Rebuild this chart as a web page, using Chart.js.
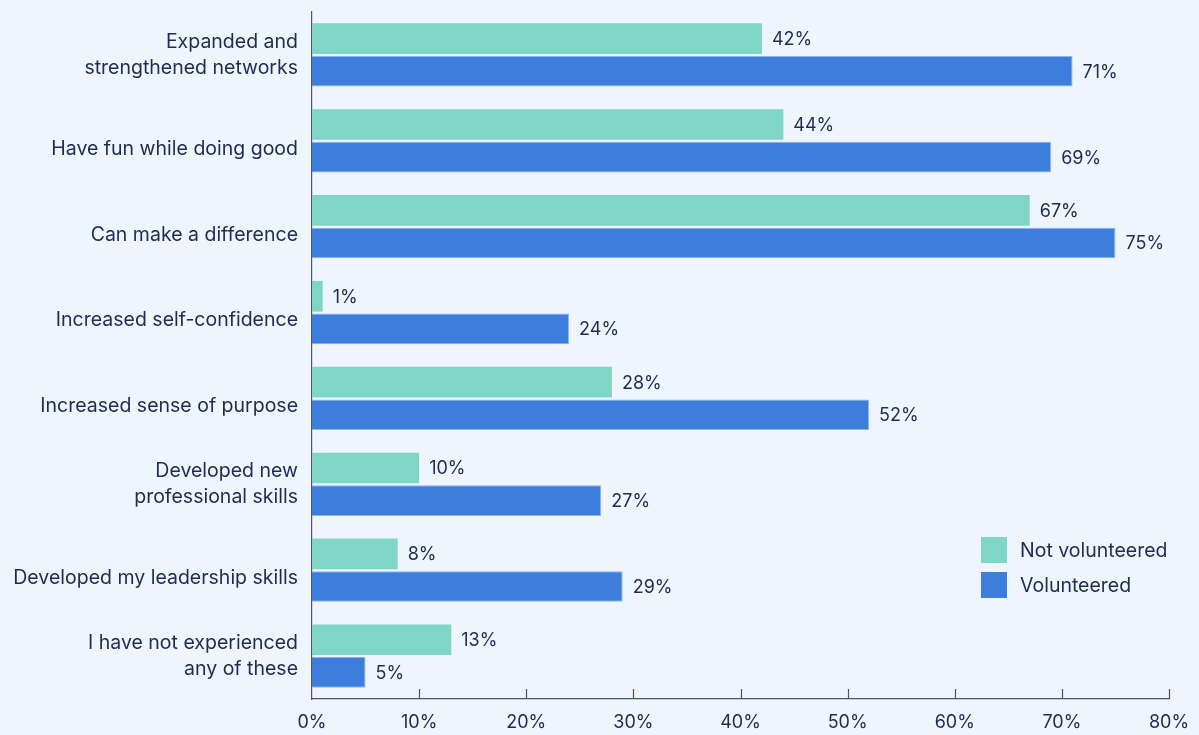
<!DOCTYPE html>
<html>
<head>
<meta charset="utf-8">
<script src="https://cdn.jsdelivr.net/npm/chart.js@4/dist/chart.umd.min.js"></script>
<style>
  html, body { margin: 0; padding: 0; background: #eef5fd; }
  #wrap { position: relative; width: 1199px; height: 735px; }
</style>
</head>
<body>
<div id="wrap"><canvas id="chart" width="1199" height="735"></canvas></div>
<script>
// Survey categories (multi-line labels are arrays)
const categories = [
  ["Expanded and", "strengthened networks"],
  "Have fun while doing good",
  "Can make a difference",
  "Increased self-confidence",
  "Increased sense of purpose",
  ["Developed new", "professional skills"],
  "Developed my leadership skills",
  ["I have not experienced", "any of these"]
];
const notVolunteered = [42, 44, 67, 1, 28, 10, 8, 13];
const volunteered    = [71, 69, 75, 24, 52, 27, 29, 5];
const tickValues = [0, 10, 20, 30, 40, 50, 60, 70, 80];

const TEXT = '#1f2b4f';
const AXIS = '#4a5372';
const FONT = 'Inter, "DejaVu Sans", sans-serif';

// Single-line category labels sit a little below the group centre:
// an empty leading line with a short line height nudges them down.
const isSingle = i => !Array.isArray(categories[i]);

// Percentage labels at the end of each bar
const valueLabels = {
  id: 'valueLabels',
  afterDatasetsDraw(chart) {
    const ctx = chart.ctx;
    ctx.save();
    ctx.font = '18px ' + FONT;
    ctx.fillStyle = TEXT;
    ctx.textAlign = 'left';
    ctx.textBaseline = 'middle';
    chart.data.datasets.forEach((ds, i) => {
      chart.getDatasetMeta(i).data.forEach((bar, j) => {
        ctx.fillText(ds.data[j] + '%', bar.x + 10, bar.y + 1);
      });
    });
    ctx.restore();
  }
};

// Short tick marks rising from the x axis
const upTicks = {
  id: 'upTicks',
  afterDraw(chart) {
    const x = chart.scales.x, ctx = chart.ctx;
    const yb = chart.chartArea.bottom;
    ctx.save();
    ctx.strokeStyle = AXIS;
    ctx.lineWidth = 1.2;
    tickValues.slice(1).forEach(v => {
      const px = Math.round(x.getPixelForValue(v)) + 0.5;
      ctx.beginPath();
      ctx.moveTo(px, yb);
      ctx.lineTo(px, yb - 10);
      ctx.stroke();
    });
    ctx.restore();
  }
};

// Legend drawn inside the plot area, lower right
const boxLegend = {
  id: 'boxLegend',
  afterDraw(chart) {
    const ctx = chart.ctx;
    const x0 = 981, y0 = 537, size = 26, step = 35;
    ctx.save();
    ctx.font = '19.5px ' + FONT;
    ctx.textBaseline = 'middle';
    ctx.textAlign = 'left';
    chart.data.datasets.forEach((ds, i) => {
      const y = y0 + i * step;
      ctx.fillStyle = ds.backgroundColor;
      ctx.fillRect(x0, y, size, size);
      ctx.fillStyle = TEXT;
      ctx.fillText(ds.label, x0 + 39, y + size / 2 + 1);
    });
    ctx.restore();
  }
};

new Chart(document.getElementById('chart'), {
  type: 'bar',
  data: {
    labels: categories,
    datasets: [
      {
        label: 'Not volunteered',
        data: notVolunteered,
        backgroundColor: '#7fd6c6',
        borderWidth: 0,
        categoryPercentage: 0.76,
        barPercentage: 0.94
      },
      {
        label: 'Volunteered',
        data: volunteered,
        backgroundColor: '#3d7ddb',
        borderColor: '#8db3ee',
        borderWidth: 1,
        categoryPercentage: 0.76,
        barPercentage: 0.94
      }
    ]
  },
  options: {
    indexAxis: 'y',
    responsive: false,
    animation: false,
    layout: { padding: { top: 12, right: 30, left: 0, bottom: 0 } },
    plugins: {
      legend: { display: false },
      tooltip: { enabled: false }
    },
    scales: {
      x: {
        min: 0,
        max: 80,
        afterBuildTicks(scale) { scale.ticks = tickValues.map(v => ({ value: v })); },
        afterFit(scale) { scale.height = 36; scale.paddingRight = 0; scale.paddingLeft = 0; },
        grid: { display: false, drawTicks: false },
        border: { display: true, color: AXIS, width: 1.2 },
        ticks: {
          padding: 13,
          color: TEXT,
          font: { family: FONT, size: 18 },
          callback: v => v + '%',
          maxRotation: 0
        }
      },
      y: {
        afterFit(scale) { scale.width = 312; scale.paddingTop = 0; scale.paddingBottom = 0; },
        grid: { display: false, drawTicks: false },
        border: { display: true, color: AXIS, width: 1.2 },
        ticks: {
          padding: 14,
          color: TEXT,
          callback(value, i) { return isSingle(i) ? ['', categories[i]] : categories[i]; },
          font: ctx => ({
            family: FONT,
            size: 19.5,
            lineHeight: isSingle(ctx.index) ? '16px' : '26px'
          })
        }
      }
    }
  },
  plugins: [valueLabels, upTicks, boxLegend]
});
</script>
</body>
</html>
